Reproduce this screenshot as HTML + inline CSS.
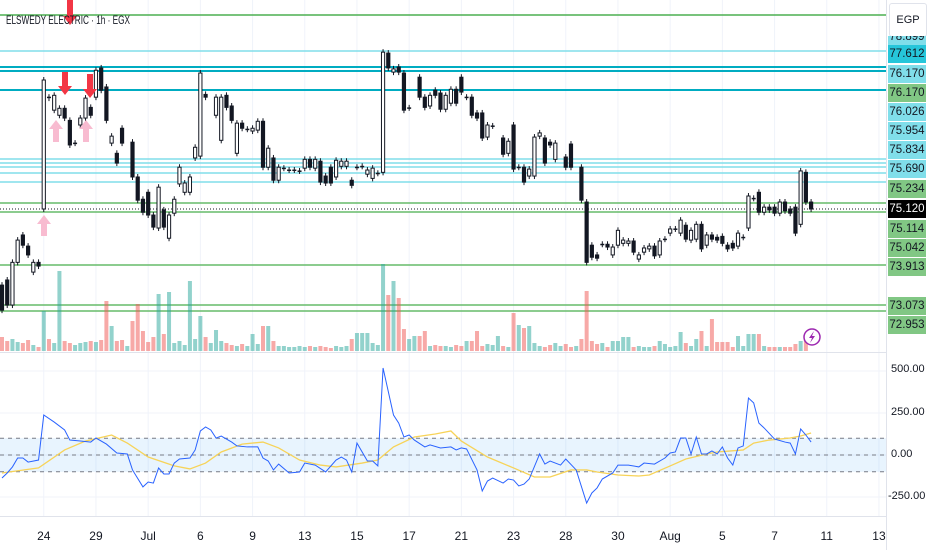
<!DOCTYPE html>
<html><head><meta charset="utf-8">
<style>
html,body{margin:0;padding:0;background:#fff;}
body{width:932px;height:550px;overflow:hidden;position:relative;font-family:"Liberation Sans",sans-serif;}
#chart{position:absolute;left:0;top:0;}
.plabel{position:absolute;left:888px;width:38px;height:18px;font-size:11.5px;line-height:18px;text-align:center;color:#131722;}
</style></head>
<body>
<svg id="chart" width="932" height="550" xmlns="http://www.w3.org/2000/svg">
  <g id="grid"></g>
  <g id="levels">
    <line x1="0" x2="886" y1="15" y2="15" stroke="#4caf50" stroke-width="1.5"/>
    <line x1="0" x2="886" y1="51" y2="51" stroke="#80deea" stroke-width="1.5"/>
    <line x1="0" x2="886" y1="67" y2="67" stroke="#00acc1" stroke-width="2"/>
    <line x1="0" x2="886" y1="71" y2="71" stroke="#00acc1" stroke-width="2"/>
    <line x1="0" x2="886" y1="90" y2="90" stroke="#00acc1" stroke-width="2"/>
    <line x1="0" x2="886" y1="159" y2="159" stroke="#80deea" stroke-width="1.5"/>
    <line x1="0" x2="886" y1="163" y2="163" stroke="#80deea" stroke-width="1.5"/>
    <line x1="0" x2="886" y1="167" y2="167" stroke="#80deea" stroke-width="1.5"/>
    <line x1="0" x2="886" y1="173" y2="173" stroke="#80deea" stroke-width="1.5"/>
    <line x1="0" x2="886" y1="182" y2="182" stroke="#80deea" stroke-width="1.5"/>
    <line x1="0" x2="886" y1="203" y2="203" stroke="#66bb6a" stroke-width="1.5"/>
    <line x1="0" x2="886" y1="212" y2="212" stroke="#66bb6a" stroke-width="1.5"/>
    <line x1="0" x2="886" y1="209" y2="209" stroke="#131722" stroke-width="1" stroke-dasharray="1,2"/>
    <line x1="0" x2="886" y1="265" y2="265" stroke="#66bb6a" stroke-width="1.5"/>
    <line x1="0" x2="886" y1="305" y2="305" stroke="#66bb6a" stroke-width="1.5"/>
    <line x1="0" x2="886" y1="311" y2="311" stroke="#66bb6a" stroke-width="1.5"/>
  </g>
  <g id="volume"></g>
  <g id="candles"></g>
  <g id="arrows"></g>
  <g id="osc"></g>
  <g id="axes"></g>
  <text x="6" y="24" font-size="12" textLength="124" lengthAdjust="spacingAndGlyphs" fill="#131722" font-family="Liberation Sans, sans-serif">ELSWEDY ELECTRIC · 1h · EGX</text>
  <g>
    <circle cx="812" cy="337" r="8" fill="#fff" stroke="#9c27b0" stroke-width="1.5"/>
    <path d="M814 331 L809 338 L812 338 L810 343 L815 336 L812 336 Z" fill="#9c27b0"/>
  </g>
</svg>
<div style="position:absolute;left:886px;top:0;width:46px;height:550px;border-left:1px solid #e0e3eb;background:#fff;"></div>
<div style="position:absolute;left:889px;top:3px;width:36px;height:32px;border:1px solid #e0e3eb;border-radius:3px;font-size:11px;line-height:32px;text-align:center;color:#131722;background:#fff;">EGP</div>
<div class="plabel" style="top:36px;height:9px;background:#80deea;overflow:hidden;line-height:2px;">78.899</div>
<div class="plabel" style="top:45px;background:#26c6da;">77.612</div>
<div class="plabel" style="top:65px;background:#80deea;">76.170</div>
<div class="plabel" style="top:84px;background:#81c784;">76.170</div>
<div class="plabel" style="top:103px;background:#80deea;">76.026</div>
<div class="plabel" style="top:122px;background:#80deea;">75.954</div>
<div class="plabel" style="top:141px;background:#80deea;">75.834</div>
<div class="plabel" style="top:160px;background:#80deea;">75.690</div>
<div class="plabel" style="top:180px;background:#81c784;">75.234</div>
<div class="plabel" style="top:200px;background:#000;color:#fff;">75.120</div>
<div class="plabel" style="top:220px;background:#81c784;">75.114</div>
<div class="plabel" style="top:239px;background:#81c784;">75.042</div>
<div class="plabel" style="top:258px;background:#81c784;">73.913</div>
<div class="plabel" style="top:297px;background:#81c784;">73.073</div>
<div class="plabel" style="top:316px;background:#81c784;">72.953</div>
<div style="position:absolute;left:891px;top:363px;font-size:11px;color:#131722;">500.00</div>
<div style="position:absolute;left:891px;top:406px;font-size:11px;color:#131722;">250.00</div>
<div style="position:absolute;left:891px;top:448px;font-size:11px;color:#131722;">0.00</div>
<div style="position:absolute;left:888px;top:490px;font-size:11px;color:#131722;">-250.00</div>

<script>
// ---- data ----
// candles: [slot, open, close]
const candles = [
[0,73.48,72.94],[1,73.59,73.05],[2,73.05,73.97],[3,73.97,74.45],[4,74.56,74.34],[5,74.32,74.13],[6,73.76,73.97],[7,73.97,73.89],
[8,75.12,77.90],[9,77.53,77.51],[10,77.25,77.57],[11,77.14,77.29],[12,77.29,77.08],[13,77.03,76.50],[14,76.54,76.54],[15,76.93,77.08],
[16,77.08,77.51],[17,77.31,77.14],[18,77.53,78.11],[19,78.16,77.68],[20,77.75,77.03],[21,76.54,76.69],[22,76.32,76.11],[23,76.86,76.54],
[25,76.56,75.81],[26,75.81,75.31],[27,75.33,75.05],[28,75.48,74.99],[29,74.99,74.73],[30,74.71,75.59],[31,75.10,74.73],[32,74.49,74.99],
[33,75.03,75.33],[34,75.66,76.02],[35,75.48,75.68],[36,75.48,75.81],[37,76.22,76.45],[38,76.26,78.05],[39,77.59,77.53],[41,77.14,77.53],
[42,76.60,77.53],[43,77.57,77.31],[44,77.34,77.03],[45,76.32,76.97],[46,76.97,76.86],[47,76.84,76.84],[48,76.80,76.86],[49,76.82,77.01],
[50,77.01,76.02],[51,76.02,76.43],[52,76.22,75.74],[53,75.74,76.02],[54,76.00,76.00],[55,75.96,75.96],[56,75.96,75.96],[57,75.94,75.94],
[58,76.00,76.19],[59,76.19,76.02],[60,76.00,76.19],[61,76.15,75.70],[62,75.83,75.68],[63,76.02,75.68],[64,75.81,76.17],[65,76.04,76.15],
[66,76.04,76.15],[67,75.74,75.63],[68,76.02,76.02],[69,76.04,76.04],[70,75.87,75.96],[71,75.78,76.00],[72,75.89,75.89],[73,75.91,78.50],
[74,78.48,78.16],[75,78.07,78.14],[76,78.18,78.07],[77,78.05,77.25],[78,77.30,77.30],[80,77.96,77.53],[81,77.53,77.31],[82,77.34,77.57],
[83,77.68,77.57],[84,77.62,77.27],[85,77.27,77.57],[86,77.40,77.70],[87,77.70,77.40],[88,77.96,77.64],[89,77.53,77.53],[90,77.53,77.14],
[91,77.19,77.08],[92,77.19,76.65],[93,76.67,76.93],[94,76.91,76.91],[96,76.65,76.30],[97,76.32,76.58],[98,76.93,75.98],[99,76.02,76.02],
[100,76.02,75.70],[101,75.83,75.98],[102,75.83,76.67],[103,76.69,76.76],[104,76.65,76.11],[105,76.56,76.50],[106,76.19,76.54],[108,76.24,76.02],
[109,76.52,76.02],[111,76.02,75.31],[112,75.27,73.97],[113,74.34,74.08],[114,74.13,74.06],[115,74.36,74.36],[116,74.36,74.30],[117,74.13,74.30],
[118,74.34,74.66],[119,74.38,74.45],[120,74.38,74.43],[121,74.43,74.19],[122,74.04,74.13],[123,74.19,74.28],[124,74.26,74.32],[125,74.32,74.11],
[126,74.13,74.43],[127,74.47,74.47],[128,74.60,74.69],[129,74.69,74.69],[130,74.60,74.88],[131,74.77,74.47],[132,74.45,74.66],[133,74.47,74.79],
[134,74.79,74.26],[135,74.34,74.56],[136,74.56,74.47],[137,74.51,74.45],[138,74.53,74.38],[139,74.34,74.26],[140,74.38,74.28],[141,74.32,74.60],
[142,74.51,74.51],[143,74.71,75.40],[144,75.35,75.35],[145,75.48,75.05],[146,75.05,75.16],[147,75.16,75.10],[148,75.16,75.03],[149,75.03,75.27],
[150,75.27,75.08],[151,75.12,75.03],[152,75.16,74.60],[153,74.79,75.94],[154,75.91,75.27],[155,75.27,75.12]
];
// volume per slot (thousand shares)
const volume = [28,20,24,18,16,22,12,8,80,24,16,160,20,16,12,16,18,20,18,22,100,50,20,22,10,60,94,40,18,28,114,34,118,16,20,12,140,24,70,28,16,42,20,16,12,10,14,10,34,14,50,50,20,10,10,8,8,10,8,10,8,10,8,6,10,8,10,24,36,36,36,16,12,174,112,140,106,44,24,30,30,40,10,12,10,10,8,12,10,20,20,40,10,14,12,30,10,8,76,52,46,50,16,10,8,12,16,10,14,8,10,24,120,20,14,16,8,20,20,28,28,8,10,8,8,10,20,14,8,10,38,16,10,24,40,10,64,18,18,18,8,30,10,34,34,34,10,8,8,8,8,8,14,20,26,0];
// CCI oscillator (slot, value)
const cciT = [0,1,2,3,4,5,7,8,10,12,13,15,17,18,20,22,24,25,27,28,29,30,31,32,33,34,36,37,38,39,40,41,42,44,45,47,49,50,51,52,53,55,57,58,60,62,64,65,66,67,68,70,71,72,73,75,76,77,78,79,81,82,84,86,87,88,89,91,92,93,94,96,97,98,99,100,101,103,104,105,107,108,110,112,113,114,115,117,118,120,122,123,125,127,128,129,130,131,132,133,134,135,136,137,138,139,140,141,142,143,144,145,146,148,150,151,152,153,154,155];
const cciV = [-137,-107,-71,-18,-18,-42,-30,238,196,149,89,83,77,101,65,12,6,-89,-190,-161,-167,-77,-113,-113,-48,-24,-18,30,143,167,149,101,113,77,54,48,48,-18,-36,-89,-54,-107,-101,-48,-60,-101,-30,-12,-30,-101,71,-36,-36,-65,518,238,190,107,119,89,48,60,42,48,30,42,36,-89,-214,-155,-137,-167,-143,-149,-184,-173,-143,6,-54,-36,-60,-24,-89,-286,-226,-196,-143,-107,-60,-60,-71,-48,-54,-18,12,18,101,101,6,107,6,6,24,6,48,-18,-60,42,54,339,310,190,161,95,77,71,6,155,119,77];
const maT = [0,7,12,16,21,24,28,33,36,39,42,46,50,53,57,61,64,69,72,75,79,83,86,88,93,98,102,105,109,112,114,118,122,124,128,131,135,137,142,144,147,151,153,155];
const maV = [-107,-77,30,83,119,71,-12,-65,-83,-48,18,65,77,42,-30,-60,-71,-48,-30,48,107,125,143,83,-12,-77,-131,-131,-89,-89,-101,-119,-125,-119,-65,-24,6,18,30,71,89,101,113,131];
const tickLabels = ["24","29","Jul","6","9","13","15","17","21","23","28","30","Aug","5","7","11","13"];
const tickSlots = [8,18,28,38,48,58,68,78,88,98,108,118,128,138,148,158,168];
const oscTicks = [500,250,0,-250];

// ---- scales ----
const NS="http://www.w3.org/2000/svg";
function xS(t){return 2+t*5.22;}
function yP(p){return 209-(p-75.12)*46.4;}
function yV(v){return 351-v*0.5;}
function yC(v){return 455-v*0.168;}
function mk(tag,attrs,parent){const e=document.createElementNS(NS,tag);for(const k in attrs)e.setAttribute(k,attrs[k]);parent.appendChild(e);return e;}

const grid=document.getElementById('grid');
tickSlots.forEach((t,i)=>{
  const l=mk('line',{x1:xS(t),x2:xS(t),y1:0,y2:516,stroke:'#f0f3fa','stroke-width':1},grid);
  
  
});
oscTicks.forEach(v=>{
  const l=mk('line',{x1:0,x2:886,y1:yC(v),y2:yC(v),stroke:'#f0f3fa','stroke-width':1},grid);
  
  
});

const dir={};
candles.forEach(c=>{dir[c[0]]=c[2]>=c[1];});

const vg=document.getElementById('volume');
volume.forEach((v,i)=>{
  if(!v)return;
  const up = dir[i]===undefined?true:dir[i];
  const r=mk('rect',{x:xS(i)-2,y:yV(v),width:4,height:351-yV(v),fill:up?'rgba(38,166,154,0.5)':'rgba(239,83,80,0.5)'},vg);
  
  
});

const cg=document.getElementById('candles');
candles.forEach(c=>{
  const x=xS(c[0]);const o=c[1],cl=c[2];
  const top=yP(Math.max(o,cl)),bot=yP(Math.min(o,cl));
  const g=mk('g',{},cg);
  
  
  mk('line',{x1:x,x2:x,y1:top-3,y2:bot+3,stroke:'#131722','stroke-width':1},g);
  if(bot-top<1.5){
    mk('rect',{x:x-2,y:top-0.5,width:4,height:1.5,fill:'#131722'},g);
  }else{
    mk('rect',{x:x-1.6,y:top,width:3.2,height:bot-top,fill:cl>=o?'#fff':'#131722',stroke:'#131722','stroke-width':1},g);
  }
});

const ag=document.getElementById('arrows');
function arrow(x,y1,y2,col,down,name){
  const h=9,w=7,s=3;
  let d;
  if(down){d=`M${x-s} ${y1} L${x+s} ${y1} L${x+s} ${y2-h} L${x+w} ${y2-h} L${x} ${y2} L${x-w} ${y2-h} L${x-s} ${y2-h} Z`;}
  else{d=`M${x-s} ${y2} L${x+s} ${y2} L${x+s} ${y1+h} L${x+w} ${y1+h} L${x} ${y1} L${x-w} ${y1+h} L${x-s} ${y1+h} Z`;}
  const p=mk('path',{d:d,fill:col},ag);
  
  
}
arrow(70,0,25,'#f23645',true,'sell-arrow');
arrow(65,72,95,'#f23645',true,'sell-arrow');
arrow(90,74,98,'#f23645',true,'sell-arrow');
arrow(56,120,142,'#f8bbd0',false,'buy-arrow');
arrow(86,120,142,'#f8bbd0',false,'buy-arrow');
arrow(44,215,236,'#f8bbd0',false,'buy-arrow');

const og=document.getElementById('osc');
const band=mk('rect',{x:0,y:yC(100),width:886,height:yC(-100)-yC(100),fill:'rgba(33,150,243,0.1)'},og);


[100,0,-100].forEach(v=>{
  const l=mk('line',{x1:0,x2:886,y1:yC(v),y2:yC(v),stroke:'#787b86','stroke-width':1,'stroke-dasharray':'4,4'},og);
  
  
});
const maLine=mk('polyline',{points:maT.map((t,i)=>xS(t)+','+yC(maV[i])).join(' '),fill:'none',stroke:'#f7d358','stroke-width':1.3},og);


const cciLine=mk('polyline',{points:cciT.map((t,i)=>xS(t)+','+yC(cciV[i])).join(' '),fill:'none',stroke:'#2962ff','stroke-width':1},og);



const ax=document.getElementById('axes');
mk('line',{x1:0,x2:886,y1:352.5,y2:352.5,stroke:'#e0e3eb','stroke-width':1},ax);
mk('line',{x1:0,x2:932,y1:516.5,y2:516.5,stroke:'#e0e3eb','stroke-width':1},ax);
tickLabels.forEach((s,i)=>{
  const t=mk('text',{x:xS(tickSlots[i]),y:540,'text-anchor':'middle','font-size':12,fill:'#131722','font-family':'Liberation Sans, sans-serif'},ax);
  t.textContent=s;
  
  
});
</script>
</body></html>
